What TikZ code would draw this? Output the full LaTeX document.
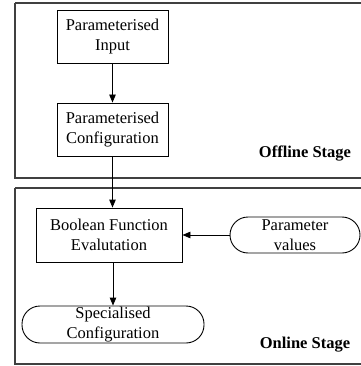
\documentclass[tikz,border=0pt]{standalone}
\usepackage{fontspec}
\setmainfont{Liberation Serif}
\usetikzlibrary{arrows.meta,positioning}
\begin{document}
\begin{tikzpicture}[x=1pt,y=-1pt,
  frame/.style={draw=black!75,line width=1.3pt},
  boxnode/.style={draw=black,line width=0.9pt,align=center,inner sep=0pt,font=\fontsize{16.5}{20}\selectfont},
  pill/.style={draw=black,line width=0.9pt,align=center,inner sep=0pt,rounded corners=18pt,font=\fontsize{16.5}{20}\selectfont},
  stagelabel/.style={font=\fontsize{16.5}{20}\selectfont\bfseries},
  flow/.style={draw=black,line width=0.9pt,-{Triangle[length=8pt,width=6.5pt]}}]
\useasboundingbox (0,0) rectangle (360,366);
\fill[white] (0,0) rectangle (360,366);
% stage frames
\draw[frame] (15,3) -- (362,3) (15,3) -- (15,178) -- (362,178);
\draw[frame] (15,188) -- (362,188) (15,188) -- (15,364) -- (362,364);
% nodes
\node[boxnode,minimum width=111pt,minimum height=53pt] (inp) at (112.5,36.5) {Parameterised\\Input};
\node[boxnode,minimum width=111pt,minimum height=53pt] (cfg) at (112.5,129.5) {Parameterised\\Configuration};
\node[stagelabel] (off) at (305,154) {Offline Stage};
\node[boxnode,minimum width=146pt,minimum height=54pt] (bfe) at (109,235) {Boolean Function\\Evalutation};
\node[pill,minimum width=130pt,minimum height=36pt] (pv) at (295,235) {Parameter\\values};
\node[pill,minimum width=182pt,minimum height=37pt] (spc) at (113,324.5) {Specialised\\Configuration};
\node[stagelabel] (on) at (305,345) {Online Stage};
% connectors
\draw[flow] (inp.south) -- (cfg.south |- inp.south) -- (cfg.north);
\draw[flow] (cfg.south) -- (cfg.south |- bfe.north);
\draw[flow] (pv.west) -- (bfe.east);
\draw[flow] (bfe.south -| spc.north) -- (spc.north);
\end{tikzpicture}
\end{document}
